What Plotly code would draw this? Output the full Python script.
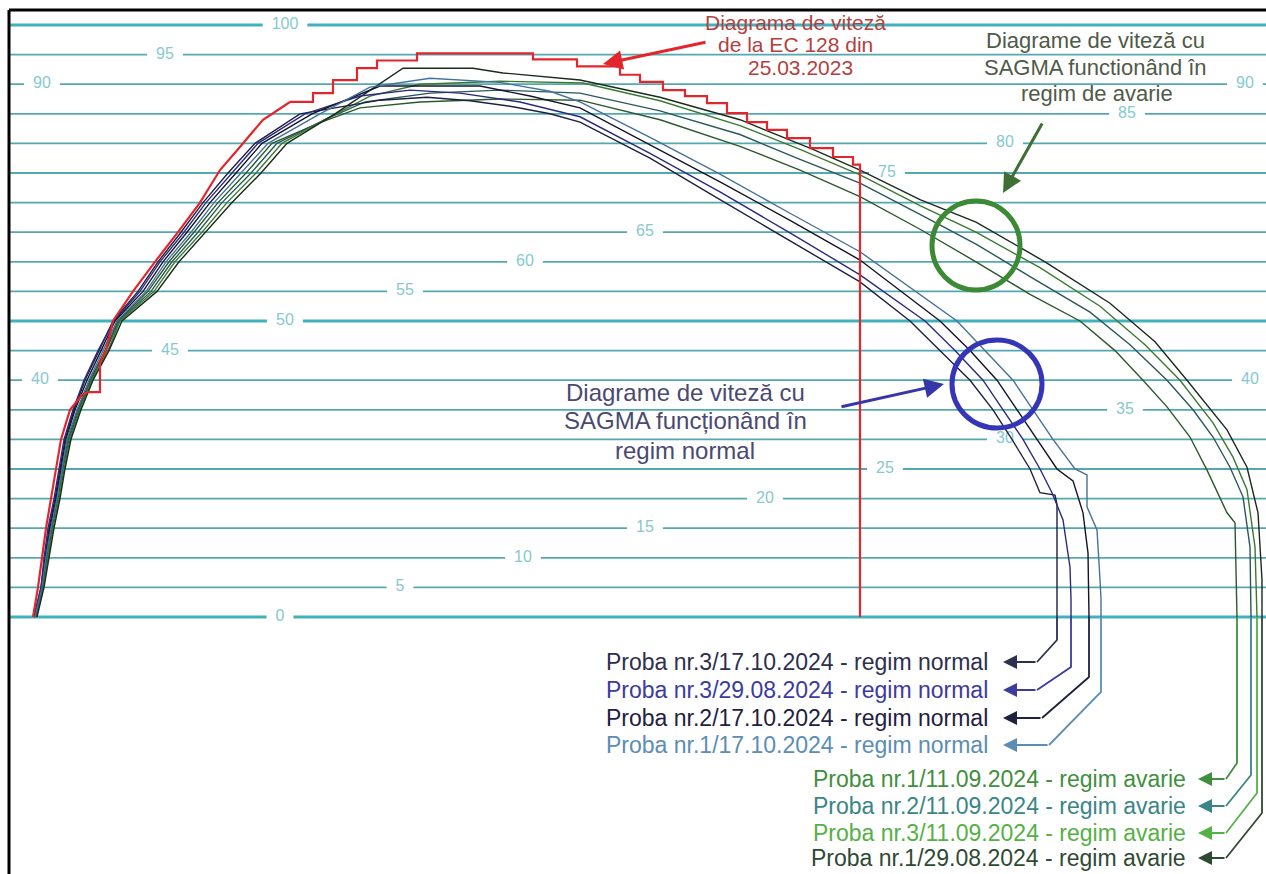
import plotly.graph_objects as go

# ---------------- data (distance units = chart units, speed in km/h) ----------------
speed_levels = list(range(0, 101, 5))
label_speeds = [0, 5, 10, 15, 20, 25, 30, 35, 40, 40, 45, 50, 55, 60, 65, 75, 80, 85, 90, 90, 95, 100]
label_dist = [280, 400, 523, 645, 765, 885, 1005, 1125, 40, 1250, 170, 285, 405, 525, 645, 887, 1005, 1127, 42, 1245, 165, 285]

ec128_x = [33, 38, 42, 46, 51, 56, 61, 70, 82, 88, 100, 100, 106, 113, 133, 155, 178, 200, 220, 238,
           263, 290, 313, 333, 357, 377, 417, 533, 577, 620, 640, 663, 685, 707, 727, 747, 767, 787, 810, 833, 853, 860]
ec128_v = [0, 5, 10, 15, 20, 25, 30, 35, 37.5, 38, 38, 43, 45, 50, 55, 60, 65, 70, 75.5, 79,
           84, 87, 88.5, 90.7, 92.7, 94, 95.2, 94.2, 93, 91.6, 90.4, 89, 88, 86.8, 85.1, 83.6, 82.3, 80.9, 79.2, 77.7, 76.4, 0]

n1_x = [34, 41, 45, 49, 55, 60, 65, 74, 85, 99, 113, 138, 158, 181, 203, 228, 255, 300, 380, 427,
        470, 513, 550, 580, 650, 720, 790, 860, 910, 940, 970, 993, 1012, 1030, 1040, 1055, 1057, 1057]
n1_v = [0, 5, 10, 15, 20, 25, 30, 35, 40, 45, 50, 55, 60, 65, 70, 75, 80, 85, 87.3, 87.8,
        87.2, 86.2, 85, 83.6, 77.5, 70.5, 63.5, 56.6, 50, 45, 40, 35, 30, 25, 21, 20.6, 19, 0]

n2_x = [34, 41, 44, 48, 54, 59, 64, 73, 84, 98, 114, 140, 160, 184, 206, 232, 258, 305, 360, 410,
        460, 520, 580, 650, 720, 790, 860, 925, 955, 983, 1003, 1023, 1040, 1052, 1063, 1070, 1071, 1071]
n2_v = [0, 5, 10, 15, 20, 25, 30, 35, 40, 45, 50, 55, 60, 65, 70, 75, 80, 85, 88, 89,
        88.5, 87, 84.5, 78.3, 71.8, 64.9, 57.8, 50, 45, 40, 35, 30, 25, 21, 16.4, 8.4, 3, 0]

n3_x = [35, 42, 46, 50, 56, 61, 66, 75, 87, 101, 115, 143, 163, 187, 210, 236, 262, 312, 380, 480,
        530, 580, 650, 720, 790, 860, 940, 970, 997, 1017, 1037, 1057, 1073, 1083, 1088, 1089, 1089]
n3_v = [0, 5, 10, 15, 20, 25, 30, 35, 40, 45, 50, 55, 60, 65, 70, 75, 80, 85, 89.7, 89.7,
        88, 86, 79.8, 73.5, 67, 60.3, 50, 45, 40, 35, 30, 25, 23, 17.6, 10.8, 3, 0]

n4_x = [35, 42, 46, 51, 57, 62, 67, 77, 89, 103, 117, 146, 166, 191, 214, 241, 268, 320, 370, 430,
        500, 550, 580, 650, 720, 790, 860, 957, 985, 1013, 1033, 1053, 1075, 1087, 1087, 1097, 1100, 1101, 1101]
n4_v = [0, 5, 10, 15, 20, 25, 30, 35, 40, 45, 50, 55, 60, 65, 70, 75, 80, 85, 89.5, 91,
        90.3, 88.8, 87, 81, 74.8, 68.2, 61.7, 50, 45, 40, 35, 30, 25, 24, 18.6, 14.7, 6.3, 3, 0]

a1_x = [35, 42, 47, 51, 57, 62, 68, 78, 90, 105, 118, 148, 169, 194, 218, 246, 272, 320, 360, 420,
        500, 580, 660, 740, 800, 860, 920, 976, 1030, 1080, 1115, 1143, 1167, 1190, 1207, 1227, 1235, 1237]
a1_v = [0, 5, 10, 15, 20, 25, 30, 35, 40, 45, 50, 55, 60, 65, 70, 75, 80, 83.5, 86, 87,
        87.5, 87.3, 84, 79.5, 75.5, 71, 65.5, 60, 54.5, 50, 45, 40, 35.5, 30.4, 24.8, 17.6, 15.9, 0]

a2_x = [36, 43, 48, 52, 58, 63, 69, 79, 91, 106, 119, 151, 172, 198, 222, 251, 277, 325, 365, 430,
        500, 580, 660, 740, 800, 860, 920, 976, 1030, 1090, 1130, 1167, 1193, 1213, 1230, 1243, 1250, 1251]
a2_v = [0, 5, 10, 15, 20, 25, 30, 35, 40, 45, 50, 55, 60, 65, 70, 75, 80, 84, 87, 88.5,
        89, 88.5, 85.5, 81.5, 77.3, 73.3, 68, 63, 57.5, 51.5, 46, 40, 35, 30.4, 25.3, 20.3, 11.8, 0]

a3_x = [36, 43, 48, 53, 59, 64, 70, 80, 92, 108, 120, 154, 175, 202, 227, 256, 282, 330, 370, 420,
        500, 583, 660, 740, 800, 860, 920, 976, 1040, 1100, 1145, 1180, 1213, 1233, 1247, 1255, 1257]
a3_v = [0, 5, 10, 15, 20, 25, 30, 35, 40, 45, 50, 55, 60, 65, 70, 75, 80, 84.5, 88, 90,
        90.5, 90.2, 87.2, 83, 79, 74.7, 69.5, 65, 59, 52.5, 46, 40, 32.8, 27, 21.5, 11.8, 0]

a4_x = [37, 44, 49, 54, 60, 65, 71, 81, 93, 109, 122, 157, 179, 206, 232, 261, 287, 335, 370, 403,
        473, 503, 580, 660, 740, 813, 860, 920, 976, 1045, 1110, 1155, 1187, 1227, 1247, 1258, 1262, 1262]
a4_v = [0, 5, 10, 15, 20, 25, 30, 35, 40, 45, 50, 55, 60, 65, 70, 75, 80, 85, 89, 92.7,
        92.7, 91.9, 90.7, 87.8, 84, 79, 75.5, 70.5, 66.7, 60, 53, 46.5, 40, 31.6, 25.3, 17.6, 6.3, 0]

normal_names = ["Proba nr.3/17.10.2024 - regim normal", "Proba nr.3/29.08.2024 - regim normal",
                "Proba nr.2/17.10.2024 - regim normal", "Proba nr.1/17.10.2024 - regim normal"]
avarie_names = ["Proba nr.1/11.09.2024 - regim avarie", "Proba nr.2/11.09.2024 - regim avarie",
                "Proba nr.3/11.09.2024 - regim avarie", "Proba nr.1/29.08.2024 - regim avarie"]

# ---------------- layout helpers (pixel geometry of the sheet) ----------------
W, H = 1266, 874
BASE_PY = 617.0
PX_PER_KMH = 5.92


def v_of(py):
    return (BASE_PY - py) / PX_PER_KMH


FONT = "Liberation Sans, Arial, sans-serif"
normal_text_col = ["#2d2f4e", "#3b3ba0", "#1f2140", "#5b8db5"]
avarie_text_col = ["#3f8f3f", "#3a8585", "#55b045", "#2e4a33"]
normal_line_col = ["#1e2040", "#2a2a80", "#141428", "#44729a"]
avarie_line_col = ["#2a5a2a", "#2a5858", "#3a7a30", "#1a2a1c"]

fig = go.Figure()

# horizontal speed lines
shapes = []
for s in speed_levels:
    thick = s in (0, 50, 100)
    shapes.append(dict(type="line", xref="x", yref="y", x0=10, x1=W, y0=s, y1=s,
                       line=dict(color="#41b2bc" if thick else "#55a8b0", width=3 if thick else 1.8),
                       layer="below"))
# white gaps behind the level labels
for s, d in zip(label_speeds, label_dist):
    half = 0.556 * 16 * len(str(s)) / 2 + 9
    shapes.append(dict(type="rect", xref="x", yref="y", x0=d - half, x1=d + half,
                       y0=s - 1.4, y1=s + 1.4, fillcolor="white", line=dict(width=0), layer="below"))

# level labels
fig.add_trace(go.Scatter(x=label_dist, y=label_speeds, mode="text",
                         text=[str(s) for s in label_speeds],
                         textfont=dict(size=16, color="#86c9d1", family=FONT),
                         hoverinfo="skip", showlegend=False))

# curves
curves = [
    (a1_x, a1_v, avarie_names[0], avarie_line_col[0]),
    (a2_x, a2_v, avarie_names[1], avarie_line_col[1]),
    (a3_x, a3_v, avarie_names[2], avarie_line_col[2]),
    (a4_x, a4_v, avarie_names[3], avarie_line_col[3]),
    (n1_x, n1_v, normal_names[0], normal_line_col[0]),
    (n2_x, n2_v, normal_names[1], normal_line_col[1]),
    (n3_x, n3_v, normal_names[2], normal_line_col[2]),
    (n4_x, n4_v, normal_names[3], normal_line_col[3]),
]
for xs, vs, name, col in curves:
    fig.add_trace(go.Scatter(x=xs, y=vs, mode="lines", name=name,
                             line=dict(color=col, width=1.4), showlegend=False))

# EC 128: acceleration drawn as a line, the recorded steps from the crest onward
split = ec128_x.index(290)
fig.add_trace(go.Scatter(x=ec128_x[:split + 1], y=ec128_v[:split + 1], mode="lines",
                         name="EC 128 din 25.03.2023",
                         line=dict(color="#e3252c", width=2.2), showlegend=False))
fig.add_trace(go.Scatter(x=ec128_x[split:], y=ec128_v[split:], mode="lines",
                         name="EC 128 din 25.03.2023",
                         line=dict(color="#e3252c", width=2.2, shape="hv"), showlegend=False))

annotations = []

# leader lines + legend labels
normal_ends = [n1_x[-1], n2_x[-1], n3_x[-1], n4_x[-1]]
avarie_ends = [a1_x[-1], a2_x[-1], a3_x[-1], a4_x[-1]]
normal_rows = [662, 690, 718, 745]
avarie_rows = [779, 806, 833, 858]
normal_knee = [640, 667, 677, 692]
avarie_knee = [763, 775, 793, 813]
normal_tail = [1037, 1037, 1042, 1049]
avarie_tail = [1226, 1226, 1226, 1226]

for i in range(4):
    for ends, rows, knee, tail, tip, txt_right, names, tcol in (
            (normal_ends, normal_rows, normal_knee, normal_tail, 1003, 990, normal_names, normal_text_col),
            (avarie_ends, avarie_rows, avarie_knee, avarie_tail, 1198, 1188, avarie_names, avarie_text_col)):
        xe = ends[i]
        fig.add_trace(go.Scatter(x=[xe, xe, tail[i]], y=[0, v_of(knee[i]), v_of(rows[i])],
                                 mode="lines", line=dict(color=tcol[i], width=1.8),
                                 hoverinfo="skip", showlegend=False))
        annotations.append(dict(x=tip, y=v_of(rows[i]), ax=tail[i], ay=v_of(rows[i]),
                                xref="x", yref="y", axref="x", ayref="y", text="",
                                showarrow=True, arrowhead=2, arrowsize=1.4, arrowwidth=2,
                                arrowcolor=tcol[i]))
        annotations.append(dict(x=txt_right, y=v_of(rows[i]), xref="x", yref="y", text=names[i],
                                showarrow=False, xanchor="right", yanchor="middle",
                                font=dict(size=23, color=tcol[i], family=FONT)))

# callout texts
red_lines = [("Diagrama de viteză", 795, 22), ("de la EC 128 din", 795, 44), ("25.03.2023", 800, 67)]
green_lines = [("Diagrame de viteză cu", 1095, 40), ("SAGMA functionând în", 1095, 67), ("regim de avarie", 1097, 93)]
blue_lines = [("Diagrame de viteză cu", 685, 392), ("SAGMA funcționând în", 685, 420), ("regim normal", 685, 450)]
for lines, col, size in ((red_lines, "#b53f3e", 21), (green_lines, "#4f5a48", 22), (blue_lines, "#4a4a70", 24)):
    for t, cx, py in lines:
        annotations.append(dict(x=cx, y=v_of(py), xref="x", yref="y", text=t, showarrow=False,
                                xanchor="center", yanchor="middle",
                                font=dict(size=size, color=col, family=FONT)))

# callout arrows
for (hx, hy, tx, ty, col) in ((603, 64, 707, 42, "#e3252c"),
                              (1003, 193, 1043, 122, "#3f6f35"),
                              (944, 384, 840, 407, "#3636a8")):
    annotations.append(dict(x=hx, y=v_of(hy), ax=tx, ay=v_of(ty), xref="x", yref="y",
                            axref="x", ayref="y", text="", showarrow=True, arrowhead=2,
                            arrowsize=1.3, arrowwidth=3, arrowcolor=col))

# circles
shapes.append(dict(type="circle", xref="x", yref="y", x0=932, x1=1020, y0=v_of(290), y1=v_of(201),
                   line=dict(color="#3c8a35", width=5)))
shapes.append(dict(type="circle", xref="x", yref="y", x0=952, x1=1042, y0=v_of(428), y1=v_of(340),
                   line=dict(color="#3535b8", width=5)))

# frame
shapes.append(dict(type="line", xref="paper", yref="paper", x0=9 / W, x1=1, y0=1 - 10 / H, y1=1 - 10 / H,
                   line=dict(color="black", width=3)))
shapes.append(dict(type="line", xref="paper", yref="paper", x0=9 / W, x1=9 / W, y0=0, y1=1 - 10 / H,
                   line=dict(color="black", width=3)))

fig.update_layout(
    width=W, height=H, autosize=False,
    margin=dict(l=0, r=0, t=0, b=0),
    paper_bgcolor="white", plot_bgcolor="white",
    xaxis=dict(range=[0, W], visible=False, fixedrange=True),
    yaxis=dict(range=[v_of(H), v_of(0)], visible=False, fixedrange=True),
    shapes=shapes, annotations=annotations, showlegend=False,
    font=dict(family=FONT),
)

fig.write_html("out.html", config={"displayModeBar": False},
               post_script="document.body.style.margin='0px';document.body.style.overflow='hidden';")
